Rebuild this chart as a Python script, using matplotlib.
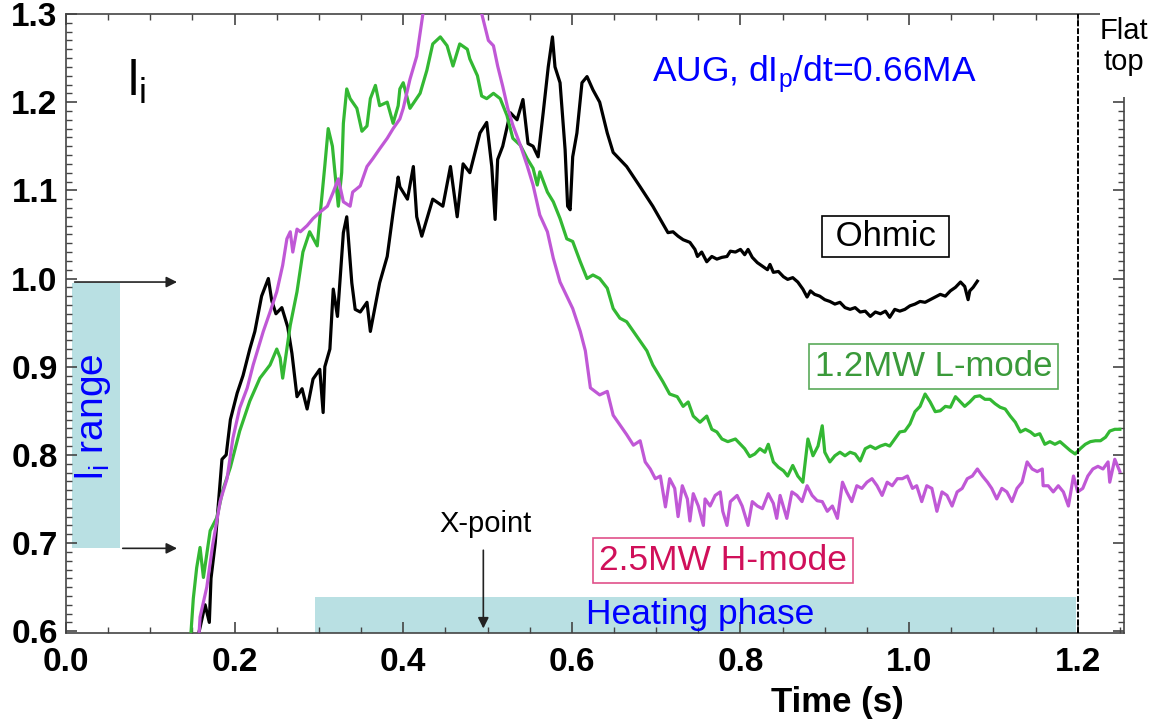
import matplotlib
matplotlib.use("Agg")
import matplotlib.pyplot as plt
from matplotlib.patches import Rectangle
from matplotlib.ticker import MultipleLocator

plt.rcParams["font.family"] = ["Liberation Sans", "DejaVu Sans"]
plt.rcParams["mathtext.fontset"] = "custom"
plt.rcParams["mathtext.rm"] = "Liberation Sans"

# Ohmic (black)
ohmic_t = [0.158, 0.165, 0.170, 0.172, 0.177, 0.185, 0.190, 0.195, 0.203, 0.210,
           0.218, 0.224, 0.232, 0.240, 0.244, 0.249, 0.256, 0.263, 0.268, 0.274,
           0.280, 0.286, 0.293, 0.301, 0.305, 0.307, 0.313, 0.317, 0.322, 0.329,
           0.333, 0.339, 0.343, 0.349, 0.357, 0.361, 0.364, 0.372, 0.381, 0.388,
           0.394, 0.396, 0.405, 0.412, 0.416, 0.422, 0.435, 0.447, 0.456, 0.464,
           0.471, 0.479, 0.491, 0.499, 0.505, 0.509, 0.512, 0.518, 0.527, 0.535,
           0.542, 0.548, 0.554, 0.560, 0.566, 0.572, 0.577, 0.580, 0.586, 0.592,
           0.595, 0.598, 0.601, 0.606, 0.612, 0.618, 0.625, 0.633, 0.642, 0.649,
           0.665, 0.681, 0.696,
           0.714, 0.720, 0.726, 0.732, 0.740, 0.746, 0.749, 0.754, 0.760, 0.766,
           0.772, 0.778, 0.784, 0.788, 0.794, 0.800, 0.805, 0.809, 0.814, 0.820,
           0.826, 0.832, 0.835, 0.839, 0.845, 0.851, 0.856, 0.862, 0.868, 0.874,
           0.879, 0.883, 0.888, 0.894, 0.900, 0.906, 0.912, 0.918, 0.924, 0.930,
           0.936, 0.942, 0.948, 0.954, 0.960, 0.966, 0.972, 0.977, 0.983, 0.989,
           0.995, 1.001, 1.007, 1.013, 1.019, 1.025, 1.031, 1.037, 1.043, 1.049,
           1.055, 1.061, 1.066, 1.070, 1.072, 1.076, 1.081]
ohmic_li = [0.600, 0.630, 0.610, 0.660, 0.700, 0.795, 0.800, 0.840, 0.870, 0.890,
            0.920, 0.940, 0.980, 1.000, 0.975, 0.960, 0.967, 0.945, 0.915, 0.866,
            0.875, 0.852, 0.886, 0.897, 0.848, 0.900, 0.920, 0.988, 0.957, 1.052,
            1.070, 0.995, 0.965, 0.962, 0.973, 0.940, 0.955, 0.995, 1.025, 1.075,
            1.115, 1.104, 1.090, 1.127, 1.070, 1.048, 1.090, 1.082, 1.127, 1.070,
            1.130, 1.120, 1.165, 1.177, 1.127, 1.067, 1.135, 1.150, 1.188, 1.180,
            1.203, 1.153, 1.150, 1.138, 1.188, 1.240, 1.274, 1.240, 1.222, 1.146,
            1.082, 1.078, 1.138, 1.165, 1.222, 1.229, 1.214, 1.200, 1.165, 1.143,
            1.127, 1.104, 1.082,
            1.052, 1.053, 1.048, 1.044, 1.041, 1.033, 1.025, 1.030, 1.019, 1.025,
            1.022, 1.024, 1.025, 1.031, 1.030, 1.033, 1.027, 1.033, 1.024, 1.018,
            1.014, 1.010, 1.016, 1.007, 1.008, 1.002, 0.999, 1.001, 0.996, 0.988,
            0.979, 0.986, 0.982, 0.980, 0.976, 0.974, 0.971, 0.973, 0.967, 0.965,
            0.967, 0.962, 0.963, 0.957, 0.962, 0.960, 0.963, 0.956, 0.965, 0.963,
            0.965, 0.969, 0.971, 0.974, 0.973, 0.976, 0.979, 0.982, 0.980, 0.986,
            0.990, 0.996, 0.991, 0.976, 0.986, 0.990, 0.997]

# 1.2MW L-mode (green)
lmode_t = [0.148, 0.151, 0.155, 0.159, 0.163, 0.171, 0.179, 0.186, 0.195, 0.206,
           0.218, 0.230, 0.242, 0.250, 0.254, 0.257, 0.262, 0.266, 0.274, 0.281,
           0.289, 0.298, 0.301, 0.307, 0.311, 0.316, 0.319, 0.323, 0.327, 0.329,
           0.333, 0.337, 0.345, 0.351, 0.357, 0.361, 0.367, 0.372, 0.381, 0.388,
           0.394, 0.396, 0.400, 0.408, 0.420, 0.428, 0.435, 0.444, 0.452, 0.459,
           0.467, 0.476, 0.479, 0.488, 0.493, 0.499, 0.507, 0.515, 0.523, 0.530,
           0.539, 0.547, 0.554, 0.559, 0.562, 0.571, 0.578, 0.586, 0.594, 0.601,
           0.610, 0.618, 0.625, 0.633, 0.642, 0.649, 0.657, 0.665, 0.673, 0.681,
           0.689, 0.696,
           0.708, 0.716, 0.725, 0.732, 0.738, 0.744, 0.752, 0.760, 0.766, 0.772,
           0.778, 0.785, 0.794, 0.800, 0.805, 0.811, 0.817, 0.823, 0.829, 0.833,
           0.839, 0.845, 0.851, 0.856, 0.862, 0.868, 0.874, 0.880, 0.886, 0.892,
           0.897, 0.900, 0.906, 0.912, 0.918, 0.924, 0.930, 0.936, 0.942, 0.948,
           0.954, 0.960, 0.966, 0.972, 0.977, 0.983, 0.989, 0.995, 1.001, 1.007,
           1.013, 1.019, 1.025, 1.031, 1.037, 1.043, 1.049, 1.055, 1.061, 1.066,
           1.072, 1.078, 1.084, 1.090, 1.096, 1.102, 1.108, 1.114, 1.120, 1.126,
           1.132, 1.138, 1.144, 1.149, 1.155, 1.161, 1.167, 1.173, 1.179, 1.185,
           1.191, 1.197, 1.203, 1.209, 1.215, 1.221, 1.227, 1.233, 1.238, 1.244,
           1.250]
lmode_li = [0.595, 0.637, 0.672, 0.695, 0.661, 0.714, 0.729, 0.760, 0.786, 0.827,
            0.861, 0.887, 0.902, 0.920, 0.910, 0.887, 0.920, 0.947, 0.985, 1.030,
            1.053, 1.037, 1.068, 1.128, 1.170, 1.150, 1.120, 1.082, 1.120, 1.176,
            1.215, 1.204, 1.193, 1.167, 1.173, 1.204, 1.219, 1.196, 1.200, 1.176,
            1.196, 1.215, 1.222, 1.193, 1.210, 1.236, 1.266, 1.274, 1.264, 1.241,
            1.266, 1.260, 1.249, 1.230, 1.207, 1.204, 1.210, 1.204, 1.185, 1.159,
            1.151, 1.136, 1.125, 1.106, 1.121, 1.098, 1.087, 1.068, 1.045, 1.042,
            1.019, 1.000, 1.004, 1.000, 0.989, 0.966, 0.955, 0.951, 0.940, 0.929,
            0.918, 0.902,
            0.883, 0.869, 0.866, 0.855, 0.860, 0.844, 0.837, 0.844, 0.829, 0.826,
            0.818, 0.815, 0.818, 0.812, 0.807, 0.798, 0.801, 0.807, 0.803, 0.812,
            0.792, 0.786, 0.782, 0.776, 0.788, 0.776, 0.769, 0.818, 0.799, 0.810,
            0.833, 0.803, 0.792, 0.799, 0.803, 0.799, 0.803, 0.801, 0.793, 0.807,
            0.810, 0.807, 0.810, 0.812, 0.810, 0.818, 0.826, 0.827, 0.835, 0.849,
            0.855, 0.869, 0.860, 0.849, 0.850, 0.855, 0.854, 0.866, 0.860, 0.855,
            0.860, 0.866, 0.867, 0.863, 0.863, 0.858, 0.854, 0.852, 0.844, 0.837,
            0.826, 0.829, 0.826, 0.822, 0.824, 0.812, 0.815, 0.812, 0.815, 0.810,
            0.805, 0.801, 0.807, 0.812, 0.815, 0.816, 0.816, 0.820, 0.827, 0.829,
            0.829]

# 2.5MW H-mode (magenta)
hmode_t = [0.158, 0.159, 0.167, 0.174, 0.183, 0.191, 0.198, 0.206, 0.215, 0.222,
           0.227, 0.234, 0.242, 0.250, 0.257, 0.262, 0.266, 0.269, 0.274, 0.278,
           0.286, 0.293, 0.301, 0.310, 0.317, 0.323, 0.329, 0.337, 0.340, 0.349,
           0.357, 0.364, 0.372, 0.381, 0.388, 0.396, 0.400, 0.408, 0.416, 0.423,
           0.426, 0.455, 0.489, 0.495, 0.501, 0.507, 0.512, 0.518, 0.524, 0.530,
           0.539, 0.547, 0.554, 0.562, 0.571, 0.578, 0.586, 0.594, 0.601, 0.610,
           0.616, 0.622, 0.633, 0.642, 0.649, 0.657, 0.665, 0.673,
           0.681, 0.687, 0.693, 0.699, 0.705, 0.711, 0.716, 0.722, 0.726, 0.731,
           0.737, 0.740, 0.744, 0.750, 0.756, 0.758, 0.764, 0.770, 0.776, 0.779,
           0.784, 0.788, 0.796, 0.802, 0.809, 0.814, 0.820, 0.826, 0.833, 0.839,
           0.843, 0.847, 0.855, 0.861, 0.867, 0.873, 0.879, 0.885, 0.891, 0.897,
           0.903, 0.909, 0.915, 0.921, 0.926, 0.932, 0.938, 0.944, 0.950, 0.956,
           0.962, 0.968, 0.974, 0.980, 0.986, 0.992, 0.998, 1.004, 1.009, 1.015,
           1.021, 1.027, 1.033, 1.039, 1.045, 1.051, 1.057, 1.063, 1.069, 1.075,
           1.081, 1.087, 1.093, 1.098, 1.104, 1.110, 1.116, 1.122, 1.128, 1.134,
           1.140, 1.146, 1.152, 1.158, 1.159, 1.165, 1.171, 1.177, 1.183, 1.189,
           1.195, 1.200, 1.206, 1.212, 1.218, 1.224, 1.230, 1.236, 1.238, 1.244,
           1.250]
hmode_li = [0.600, 0.616, 0.650, 0.698, 0.748, 0.773, 0.819, 0.853, 0.876, 0.902,
            0.918, 0.940, 0.962, 0.985, 1.015, 1.045, 1.053, 1.030, 1.056, 1.053,
            1.060, 1.068, 1.075, 1.082, 1.098, 1.113, 1.087, 1.082, 1.098, 1.105,
            1.127, 1.136, 1.147, 1.159, 1.170, 1.181, 1.193, 1.226, 1.252, 1.298,
            1.316, 1.380, 1.316, 1.293, 1.270, 1.264, 1.241, 1.218, 1.193, 1.174,
            1.151, 1.128, 1.106, 1.072, 1.053, 1.023, 0.996, 0.980, 0.966, 0.940,
            0.918, 0.876, 0.868, 0.872, 0.845, 0.834, 0.823, 0.811,
            0.816, 0.792, 0.784, 0.773, 0.776, 0.741, 0.773, 0.762, 0.730, 0.765,
            0.750, 0.725, 0.756, 0.742, 0.720, 0.750, 0.742, 0.754, 0.758, 0.736,
            0.720, 0.747, 0.754, 0.742, 0.720, 0.747, 0.742, 0.739, 0.756, 0.745,
            0.728, 0.754, 0.728, 0.758, 0.754, 0.747, 0.765, 0.754, 0.748, 0.747,
            0.736, 0.742, 0.728, 0.769, 0.758, 0.747, 0.765, 0.762, 0.769, 0.773,
            0.765, 0.754, 0.769, 0.765, 0.773, 0.773, 0.776, 0.762, 0.765, 0.747,
            0.765, 0.762, 0.736, 0.758, 0.754, 0.742, 0.758, 0.762, 0.773, 0.776,
            0.784, 0.776, 0.769, 0.762, 0.750, 0.762, 0.758, 0.747, 0.762, 0.769,
            0.792, 0.784, 0.781, 0.784, 0.765, 0.765, 0.758, 0.765, 0.758, 0.742,
            0.776, 0.758, 0.762, 0.776, 0.784, 0.787, 0.784, 0.792, 0.769, 0.795,
            0.781]

fig = plt.figure(figsize=(11.64, 7.24), dpi=100)
ax = fig.add_axes([0.0567, 0.1257, 0.909, 0.855])

# shaded helpers
ax.add_patch(Rectangle((0.007, 0.694), 0.057, 0.301, facecolor="#b9e0e3", edgecolor="none", zorder=1))
ax.add_patch(Rectangle((0.295, 0.598), 0.903, 0.041, facecolor="#b9e0e3", edgecolor="none", zorder=1))

ax.plot(ohmic_t, ohmic_li, color="black", lw=2.3, zorder=3)
ax.plot(lmode_t, lmode_li, color="#33b833", lw=2.3, zorder=3)
ax.plot(hmode_t, hmode_li, color="#c058d6", lw=2.3, zorder=3)

ax.axvline(1.2, color="black", lw=1.4, ls=(0, (3, 1)), zorder=4)

ax.set_xlim(0, 1.255)
ax.set_ylim(0.598, 1.3)
ax.xaxis.set_major_locator(MultipleLocator(0.2))
ax.xaxis.set_minor_locator(MultipleLocator(0.05))
ax.yaxis.set_major_locator(MultipleLocator(0.1))
ax.yaxis.set_minor_locator(MultipleLocator(0.01))
ax.tick_params(which="both", direction="in", top=True, right=True, color="#444444")
ax.tick_params(which="major", length=8, width=1.2)
ax.tick_params(which="minor", length=4, width=1.0)
ax.tick_params(axis="both", labelsize=24)
ax.tick_params(axis="x", pad=10)
ax.tick_params(axis="y", pad=6)
for lab in ax.get_xticklabels() + ax.get_yticklabels():
    lab.set_fontweight("bold")
for sp in ax.spines.values():
    sp.set_color("#444444")
    sp.set_linewidth(1.2)

ax.set_xlabel("Time (s)", fontsize=25, fontweight="bold")
ax.xaxis.set_label_coords(0.729, -0.085)

# cover the top-right corner for the "Flat top" note
ax.add_patch(Rectangle((0.977, 0.866), 0.2, 0.2, transform=ax.transAxes, facecolor="white",
                       edgecolor="none", clip_on=False, zorder=6))
ax.text(1.0, 0.995, "Flat\ntop", transform=ax.transAxes, ha="center", va="top",
        fontsize=21, linespacing=1.15, zorder=7)

ax.text(0.072, 1.223, "l$_\\mathregular{i}$", fontsize=36, va="center", ha="left")
ax.text(0.695, 1.231, "AUG, dI$_\\mathregular{p}$/dt=0.66MA", color="#0000ff", fontsize=25.5,
        va="center", ha="left")
ax.text(0.032, 0.843, "l$_\\mathregular{i}$ range", color="#0000ff", fontsize=28, rotation=90,
        ha="center", va="center", zorder=2)
ax.text(0.752, 0.619, "Heating phase", color="#0000ff", fontsize=25.5, ha="center", va="center", zorder=2)

ax.text(0.972, 1.048, " Ohmic ", fontsize=25, ha="center", va="center", zorder=5,
        bbox=dict(boxstyle="square,pad=0.12", facecolor="white", edgecolor="black", lw=1.2))
ax.text(1.029, 0.900, "1.2MW L-mode", fontsize=25, color="#3a9a3a", ha="center", va="center", zorder=5,
        bbox=dict(boxstyle="square,pad=0.17", facecolor="white", edgecolor="#5aaa5a", lw=1.2))
ax.text(0.779, 0.680, "2.5MW H-mode", fontsize=25.5, color="#d0105a", ha="center", va="center", zorder=5,
        bbox=dict(boxstyle="square,pad=0.17", facecolor="white", edgecolor="#e0508a", lw=1.2))

ax.text(0.497, 0.722, "X-point", fontsize=21, ha="center", va="center")
arrow = dict(arrowstyle="-|>", color="#222222", lw=1.2, mutation_scale=16)
ax.annotate("", xy=(0.495, 0.600), xytext=(0.495, 0.695), arrowprops=arrow)
ax.annotate("", xy=(0.135, 0.996), xytext=(0.007, 0.996), arrowprops=arrow)
ax.annotate("", xy=(0.135, 0.694), xytext=(0.064, 0.694), arrowprops=arrow)

fig.savefig("out.png", dpi=100)
